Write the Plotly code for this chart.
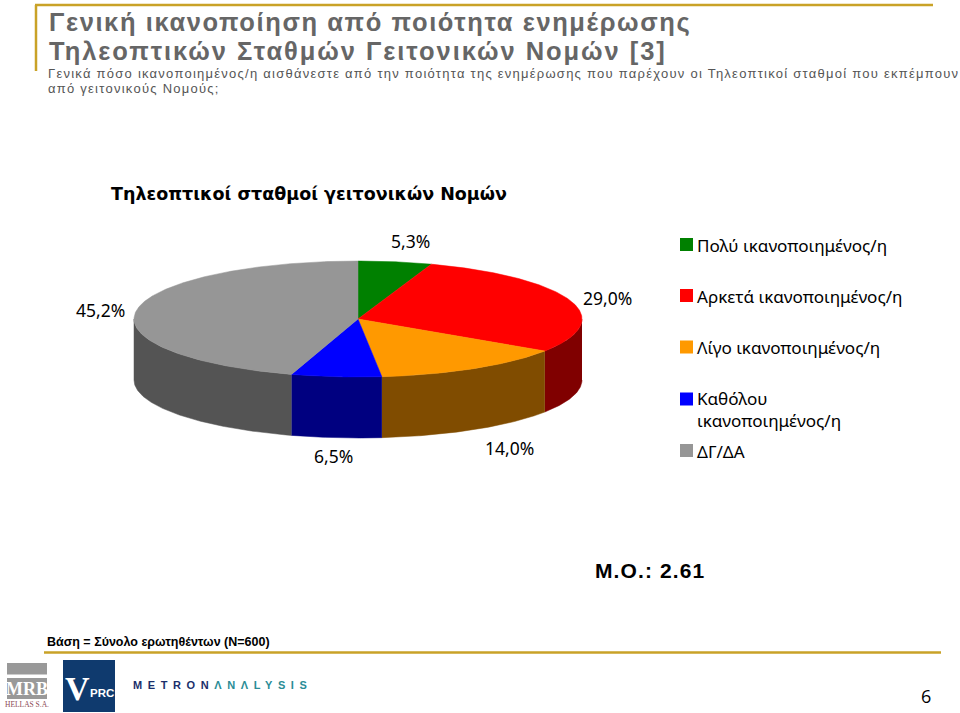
import numpy as np
import plotly.graph_objects as go

categories = ["Πολύ ικανοποιημένος/η", "Αρκετά ικανοποιημένος/η", "Λίγο ικανοποιημένος/η",
              "Καθόλου<br>ικανοποιημένος/η", "ΔΓ/ΔΑ"]
values = [5.3, 29.0, 14.0, 6.5, 45.2]
value_labels = ["5,3%", "29,0%", "14,0%", "6,5%", "45,2%"]
top_colors = ["#008000", "#FF0000", "#FF9900", "#0000FF", "#969696"]
side_colors = ["#004000", "#800000", "#804C00", "#000080", "#545454"]

CX, CY, RX, RY, DEPTH = 358, 319, 224, 58, 61
GOLD = "#C9A227"
TAHOMA = "Noto Sans"
ARIAL = "Liberation Sans"

fig = go.Figure()

def rim(a0, a1):
    t = np.radians(np.linspace(a0, a1, max(2, int(abs(a1 - a0)) * 2)))
    return CX + RX * np.sin(t), CY - RY * np.cos(t)

bounds = np.concatenate([[0], np.cumsum(values)]) / np.sum(values) * 360

# side walls (front half of the ellipse only)
for i in range(len(values)):
    a0, a1 = max(bounds[i], 90), min(bounds[i + 1], 270)
    if a1 <= a0:
        continue
    x, y = rim(a0, a1)
    fig.add_trace(go.Scatter(
        x=np.concatenate([x, x[::-1]]), y=np.concatenate([y, y[::-1] + DEPTH]),
        mode="lines", fill="toself", fillcolor=side_colors[i],
        line=dict(width=0.5, color=side_colors[i]), hoverinfo="skip", showlegend=False))

# top face
for i in range(len(values)):
    x, y = rim(bounds[i], bounds[i + 1])
    fig.add_trace(go.Scatter(
        x=np.concatenate([[CX], x, [CX]]), y=np.concatenate([[CY], y, [CY]]),
        mode="lines", fill="toself", fillcolor=top_colors[i],
        line=dict(width=0.5, color=top_colors[i]), name=categories[i], showlegend=False))

# legend swatches
legend_x = [686.5] * 5
legend_y = [244.5, 295.5, 347, 399, 450.5]
fig.add_trace(go.Scatter(x=legend_x, y=legend_y, mode="markers", hoverinfo="skip", showlegend=False,
                         marker=dict(symbol="square", size=13, color=top_colors, line=dict(width=0))))

def text(x, y, s, size, color="#000000", family=TAHOMA, anchor="left", bold=False, spacing=None):
    if spacing is not None:
        s = f'<span style="letter-spacing:{spacing}px">{s}</span>'
    fig.add_annotation(x=x, y=y, text=f"<b>{s}</b>" if bold else s, showarrow=False, xanchor=anchor,
                       yanchor="middle", align="left", font=dict(size=size, color=color, family=family))

# headline
TITLE_GRAY = "#666666"
text(47, 22, "Γενική ικανοποίηση από ποιότητα ενημέρωσης", 25.5, TITLE_GRAY, ARIAL, bold=True, spacing=1.6)
text(47, 51, "Τηλεοπτικών Σταθμών Γειτονικών Νομών [3]", 25.5, TITLE_GRAY, ARIAL, bold=True, spacing=1.95)
text(46, 73, "Γενικά πόσο ικανοποιημένος/η αισθάνεστε από την ποιότητα της ενημέρωσης που παρέχουν οι Τηλεοπτικοί σταθμοί που εκπέμπουν",
     13, "#555555", ARIAL, spacing=1.25)
text(46, 88, "από γειτονικούς Νομούς;", 13, "#555555", ARIAL, spacing=1.25)

text(309, 194, "Τηλεοπτικοί σταθμοί γειτονικών Νομών", 17.5, "#000000", "DejaVu Sans", "center", True)

# data labels
label_x = [410, 607, 509, 333, 100]
label_y = [241, 298, 448, 456, 310]
for lx, ly, s in zip(label_x, label_y, value_labels):
    text(lx, ly, s, 17.5, anchor="center")

# legend labels
for ly, s in zip([245, 296, 347, 409.5, 451], categories):
    text(695, ly, s, 17.1)

text(650, 570, "Μ.Ο.: 2.61", 21, family=ARIAL, anchor="center", bold=True, spacing=1.1)
text(45, 642, "Βάση = Σύνολο ερωτηθέντων (Ν=600)", 12.5, family=ARIAL, bold=True)
text(926, 696, "6", 18, anchor="center", family="Open Sans")

# rules
shapes = [
    dict(type="line", x0=35, x1=933, y0=5, y1=5, line=dict(color=GOLD, width=2.5)),
    dict(type="line", x0=36, x1=36, y0=5, y1=71, line=dict(color=GOLD, width=2.5)),
    dict(type="line", x0=44, x1=941, y0=652.5, y1=652.5, line=dict(color=GOLD, width=2.5)),
    dict(type="rect", x0=7, x1=47, y0=663, y1=674.5, fillcolor="#999999", line=dict(width=0)),
    dict(type="rect", x0=7, x1=47, y0=678, y1=699, fillcolor="#999999", line=dict(width=0)),
    dict(type="rect", x0=63, x1=115, y0=660, y1=712, fillcolor="#0F3A6E", line=dict(width=0)),
]

# logos
text(27, 689, "MRB", 18, "#FFFFFF", "Liberation Serif", "center", True)
text(27, 704, "HELLAS S.A.", 7.5, "#8A4A55", "Liberation Serif", "center")
text(77.5, 688, "V", 34, "#FFFFFF", "Liberation Serif", "center", True)
text(101.5, 693, "PRC", 11.5, "#FFFFFF", ARIAL, "center", True)
metron = "METRON"
analysis = "ΛNΛLYSIS"
text(131, 685, f'<span style="color:#1B2F6B;letter-spacing:5.6px">{metron}</span>'
               f'<span style="color:#2A8C96;letter-spacing:5.6px">{analysis}</span>',
     11, "#1B2F6B", ARIAL, "left", True)

fig.update_layout(
    width=960, height=713, margin=dict(l=0, r=0, t=0, b=0), autosize=False,
    paper_bgcolor="#FFFFFF", plot_bgcolor="#FFFFFF", shapes=shapes, showlegend=False,
    xaxis=dict(range=[0, 960], visible=False, fixedrange=True),
    yaxis=dict(range=[713, 0], visible=False, fixedrange=True),
)
fig.write_html("out.html", config=dict(displayModeBar=False, responsive=False),
               post_script="document.body.style.margin='0';document.documentElement.style.overflow='hidden';")
